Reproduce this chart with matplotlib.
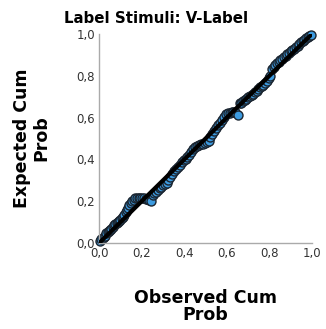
import matplotlib
matplotlib.use("Agg")
import matplotlib.pyplot as plt
from matplotlib.ticker import FuncFormatter

title = "Label Stimuli: V-Label"
xlabel = "Observed Cum\nProb"
ylabel = "Expected Cum\nProb"
ticks = [0.0, 0.2, 0.4, 0.6, 0.8, 1.0]

observed = [0.003, 0.010, 0.016, 0.022, 0.028, 0.034, 0.040, 0.046, 0.052, 0.058,
            0.064, 0.070, 0.076, 0.082, 0.088, 0.094, 0.100, 0.106, 0.112, 0.118,
            0.124, 0.130, 0.136, 0.142, 0.148, 0.155, 0.162, 0.170, 0.178, 0.186,
            0.194, 0.202, 0.210, 0.218, 0.226, 0.235, 0.245, 0.252, 0.260, 0.268,
            0.276, 0.284, 0.292, 0.300, 0.308, 0.317, 0.325, 0.334, 0.343, 0.352,
            0.361, 0.370, 0.379, 0.388, 0.397, 0.406, 0.415, 0.424, 0.433, 0.442,
            0.451, 0.460, 0.469, 0.478, 0.487, 0.496, 0.505, 0.514, 0.523, 0.532,
            0.541, 0.550, 0.559, 0.568, 0.577, 0.586, 0.595, 0.604, 0.613, 0.622,
            0.631, 0.640, 0.652, 0.660, 0.668, 0.676, 0.684, 0.692, 0.700, 0.708,
            0.716, 0.724, 0.732, 0.740, 0.748, 0.756, 0.764, 0.772, 0.780, 0.788,
            0.796, 0.804, 0.812, 0.820, 0.828, 0.836, 0.844, 0.852, 0.860, 0.868,
            0.876, 0.884, 0.892, 0.900, 0.908, 0.916, 0.924, 0.932, 0.940, 0.948,
            0.956, 0.964, 0.972, 0.980, 0.988, 0.995]
expected = [0.008, 0.018, 0.025, 0.028, 0.034, 0.048, 0.052, 0.058, 0.062, 0.068,
            0.078, 0.085, 0.092, 0.095, 0.100, 0.105, 0.112, 0.118, 0.125, 0.135,
            0.150, 0.160, 0.170, 0.180, 0.190, 0.200, 0.208, 0.214, 0.216, 0.218,
            0.216, 0.214, 0.215, 0.213, 0.210, 0.205, 0.200, 0.228, 0.238, 0.245,
            0.252, 0.262, 0.270, 0.278, 0.283, 0.287, 0.300, 0.315, 0.330, 0.345,
            0.352, 0.362, 0.375, 0.388, 0.398, 0.402, 0.410, 0.420, 0.435, 0.450,
            0.460, 0.466, 0.470, 0.474, 0.476, 0.478, 0.482, 0.490, 0.505, 0.520,
            0.535, 0.552, 0.565, 0.575, 0.590, 0.605, 0.615, 0.620, 0.623, 0.625,
            0.627, 0.628, 0.613, 0.668, 0.672, 0.678, 0.684, 0.690, 0.696, 0.702,
            0.708, 0.714, 0.720, 0.728, 0.736, 0.745, 0.752, 0.758, 0.764, 0.775,
            0.790, 0.800, 0.830, 0.844, 0.852, 0.860, 0.868, 0.875, 0.882, 0.890,
            0.896, 0.902, 0.910, 0.918, 0.924, 0.930, 0.936, 0.944, 0.952, 0.960,
            0.966, 0.972, 0.978, 0.985, 0.992, 0.997]

fig = plt.figure(figsize=(3.26, 3.29), dpi=100)
ax = fig.add_axes([0.304, 0.261, 0.653, 0.636])

ax.scatter(observed, expected, s=42, facecolor="#3d9be0", edgecolor="#1b2530",
           linewidth=1.0, zorder=2, clip_on=False)
ax.plot([0, 1], [0, 1], color="black", linewidth=3.0, zorder=3)

ax.set_xlim(0, 1)
ax.set_ylim(0, 1)
ax.set_xticks(ticks)
ax.set_yticks(ticks)
fmt = FuncFormatter(lambda v, p: f"{v:.1f}".replace(".", ","))
ax.xaxis.set_major_formatter(fmt)
ax.yaxis.set_major_formatter(fmt)
ax.tick_params(length=0, labelsize=8.5, colors="#333333", pad=3)
for s in ["top", "right"]:
    ax.spines[s].set_visible(False)
for s in ["left", "bottom"]:
    ax.spines[s].set_color("#aaaaaa")
    ax.spines[s].set_linewidth(1.0)

fig.text(0.478, 0.945, title, ha="center", va="center", fontsize=10.8,
         fontweight="bold")
fig.text(0.63, 0.068, xlabel, ha="center", va="center", fontsize=12.5,
         fontweight="bold", linespacing=0.95)
fig.text(0.098, 0.58, ylabel, ha="center", va="center", fontsize=12.5,
         fontweight="bold", rotation=90, linespacing=1.1)

fig.savefig("out.png", dpi=100)
